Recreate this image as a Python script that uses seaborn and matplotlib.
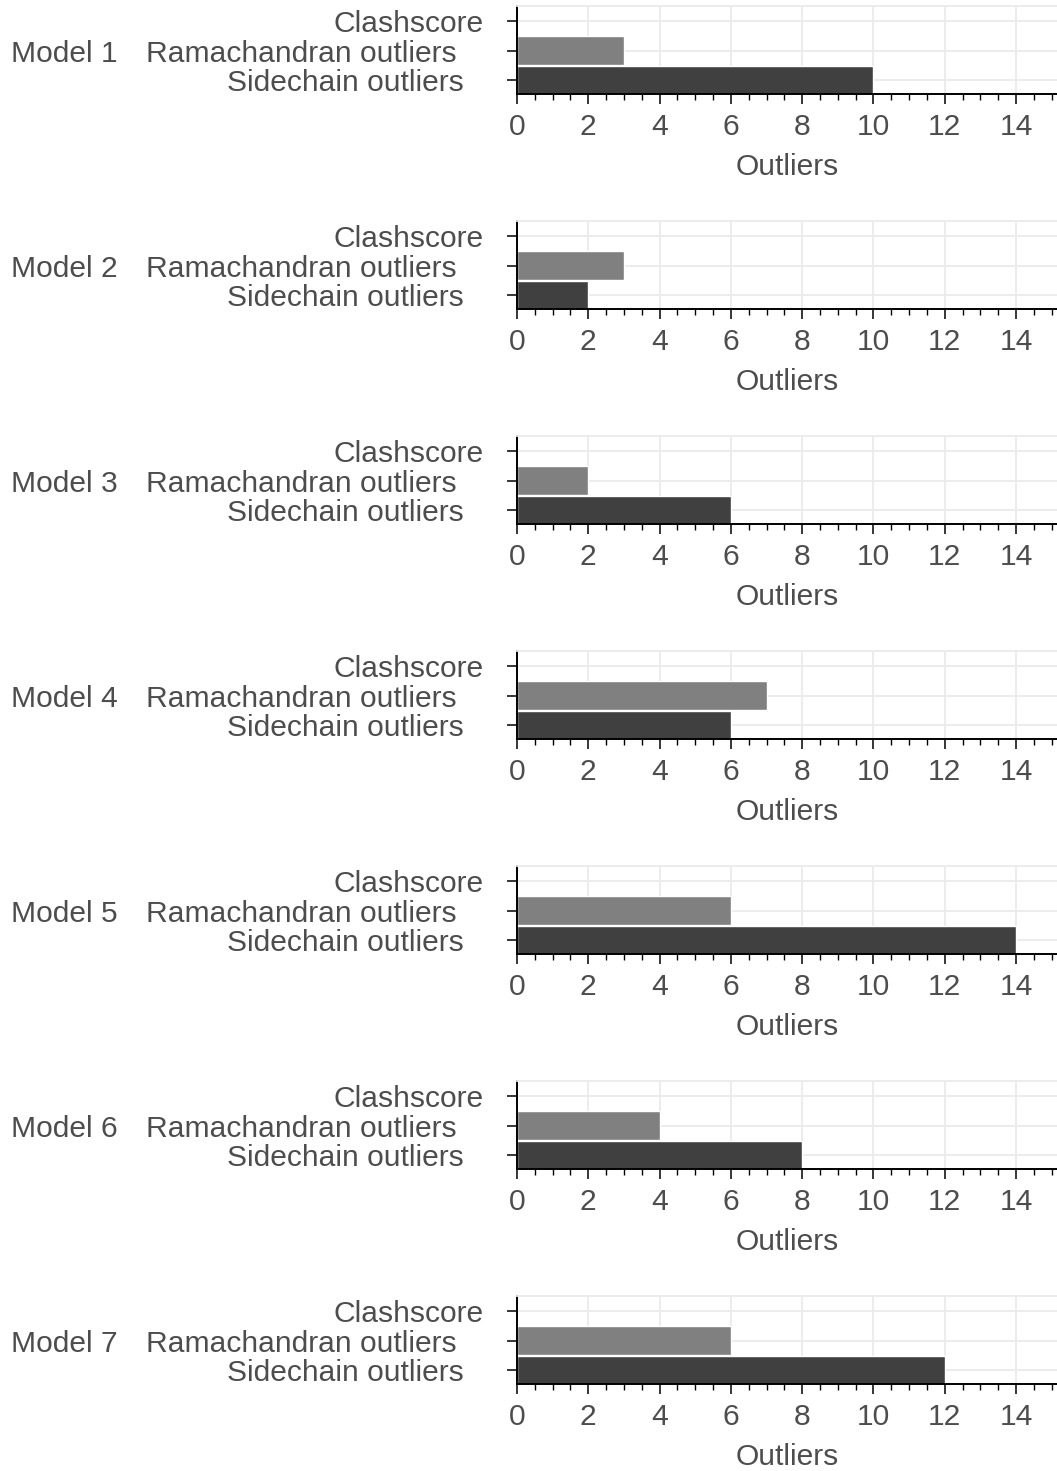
import matplotlib
matplotlib.use("Agg")
import matplotlib.pyplot as plt
from matplotlib.ticker import MultipleLocator
import seaborn as sns
import pandas as pd

models = ["Model 1", "Model 2", "Model 3", "Model 4", "Model 5", "Model 6", "Model 7"]
metrics = ["Clashscore", "Ramachandran outliers", "Sidechain outliers"]
clashscore = [0, 0, 0, 0, 0, 0, 0]
ramachandran = [3, 3, 2, 7, 6, 4, 6]
sidechain = [10, 2, 6, 6, 14, 8, 12]
x_ticks = [0, 2, 4, 6, 8, 10, 12, 14]

rows = []
for i, m in enumerate(models):
    rows.append((m, metrics[0], clashscore[i]))
    rows.append((m, metrics[1], ramachandran[i]))
    rows.append((m, metrics[2], sidechain[i]))
df = pd.DataFrame(rows, columns=["model", "metric", "value"])

sns.set_theme(style="white")
plt.rcParams["font.family"] = ["Liberation Sans", "DejaVu Sans"]
TXT = "#4d4d4d"
FS = 21.6

W, H = 1057, 1471
fig = plt.figure(figsize=(W / 100, H / 100), dpi=100)
palette = {metrics[0]: "#bdbdbd", metrics[1]: "#808080", metrics[2]: "#404040"}
pads = [17.0, 36.4, 31.0]

for i, m in enumerate(models):
    top = 6.0 + 215.0 * i
    bot = 94.4 + 215.0 * i
    left = 517.0
    ax = fig.add_axes([left / W, 1 - bot / H, (W - left) / W, (bot - top) / H])
    sub = df[df["model"] == m]
    sns.barplot(data=sub, x="value", y="metric", hue="metric", order=metrics,
                hue_order=metrics, palette=palette, width=0.95, dodge=False,
                errorbar=None, legend=False, ax=ax, zorder=2)
    ax.set_xlim(0, 15.15)
    ax.set_ylim(2.475, -0.5)
    ax.set_axisbelow(True)
    ax.grid(True, color="#ebebeb", lw=1.3, zorder=0)
    ax.set_xticks(x_ticks)
    ax.xaxis.set_minor_locator(MultipleLocator(0.5))
    ax.set_ylabel("")
    ax.set_xlabel("Outliers", fontsize=FS, color=TXT, labelpad=8.5)
    ax.spines["right"].set_visible(False)
    ax.spines["top"].set_color("#ebebeb")
    ax.spines["top"].set_linewidth(1.3)
    for s in ["left", "bottom"]:
        ax.spines[s].set_color("black")
        ax.spines[s].set_linewidth(1.4)
    ax.tick_params(axis="both", which="major", direction="out", length=7.2,
                   width=1.1, color="black", labelsize=FS, labelcolor=TXT,
                   left=True, bottom=True)
    ax.tick_params(axis="x", which="major", pad=6)
    ax.tick_params(axis="x", which="minor", direction="out", length=4.3,
                   width=1.0, color="black", bottom=True)
    ax.tick_params(axis="y", which="minor", left=False)
    ax.set_yticks(range(len(metrics)))
    ax.set_yticklabels(metrics)
    for t, p in zip(ax.yaxis.get_major_ticks(), pads):
        t.set_pad(p)
    ax.annotate(m, xy=(11 / W, 1), xycoords=("figure fraction", "data"),
                ha="left", va="center_baseline", fontsize=FS, color=TXT,
                annotation_clip=False)

fig.savefig("out.png", dpi=100)
